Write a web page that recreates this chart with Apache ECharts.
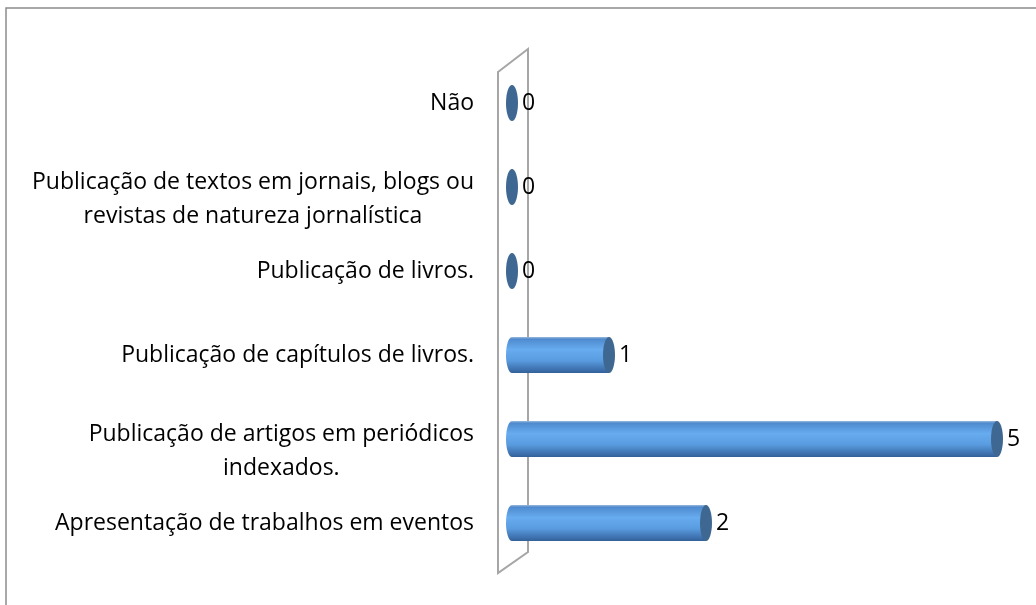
<!DOCTYPE html>
<html>
<head>
<meta charset="utf-8">
<script src="https://cdn.jsdelivr.net/npm/echarts@6/dist/echarts.min.js"></script>
<style>
  html, body { margin: 0; padding: 0; background: #fff; }
  #chart { width: 1036px; height: 605px; }
</style>
</head>
<body>
<div id="chart"></div>
<script>
// categories bottom -> top (category axis starts at the bottom)
const categories = [
  "Apresentação de trabalhos em eventos",
  "Publicação de artigos em periódicos\nindexados.",
  "Publicação de capítulos de livros.",
  "Publicação de livros.",
  "Publicação de textos em jornais, blogs ou\nrevistas de natureza jornalística",
  "Não"
];
const counts = [2, 5, 1, 0, 0, 0];
const valueMax = 5;

const FONT = "Open Sans";
const FONT_SIZE = 23;
const chart = echarts.init(document.getElementById("chart"));

const capColor = "#3e6891";
const bodyGradient = new echarts.graphic.LinearGradient(0, 0, 0, 1, [
  { offset: 0, color: "#9dbbdc" },
  { offset: 0.06, color: "#4f8ace" },
  { offset: 0.35, color: "#67acef" },
  { offset: 0.65, color: "#5a9ce0" },
  { offset: 1, color: "#33609a" }
]);

function renderWall(params) {
  const g = params.coordSys;
  const l = g.x - 14, r = g.x + 16;
  return {
    type: "polygon",
    shape: {
      points: [
        [l, g.y + 11], [r, g.y - 12],
        [r, g.y + g.height - 13], [l, g.y + g.height + 8]
      ]
    },
    style: { fill: null, stroke: "#a6a6a6", lineWidth: 2 },
    silent: true
  };
}

function renderBar(params, api) {
  const val = api.value(0);
  const idx = api.value(1);
  const start = api.coord([0, idx]);
  const end = api.coord([val, idx]);
  const h = api.size([0, 1])[1] * 0.43;
  const rx = 6;
  const cy = start[1];
  const children = [];
  if (val > 0) {
    children.push({
      type: "ellipse",
      shape: { cx: start[0], cy: cy, rx: rx, ry: h / 2 },
      style: { fill: bodyGradient }
    });
    children.push({
      type: "rect",
      shape: { x: start[0], y: cy - h / 2, width: end[0] - start[0], height: h },
      style: { fill: bodyGradient }
    });
  }
  children.push({
    type: "ellipse",
    shape: { cx: end[0], cy: cy, rx: rx, ry: h / 2 },
    style: { fill: capColor }
  });
  children.push({
    type: "text",
    style: {
      text: String(val),
      x: end[0] + rx + 4,
      y: cy,
      verticalAlign: "middle",
      align: "left",
      fill: "#000",
      font: FONT_SIZE + "px '" + FONT + "'"
    }
  });
  return { type: "group", children: children };
}

chart.setOption({
  animation: false,
  backgroundColor: "#fff",
  graphic: [{
    type: "polyline",
    shape: { points: [[6, 605], [6, 8], [1036, 8]] },
    style: { stroke: "#8c8c8c", lineWidth: 1.5, fill: null },
    silent: true
  }],
  grid: { left: 512, right: 39, top: 61, bottom: 40 },
  xAxis: {
    type: "value",
    min: 0,
    max: valueMax,
    show: false
  },
  yAxis: {
    type: "category",
    data: categories,
    axisLine: { show: false },
    axisTick: { show: false },
    splitLine: { show: false },
    axisLabel: {
      margin: 38,
      color: "#000",
      fontFamily: FONT,
      fontSize: FONT_SIZE,
      lineHeight: 34,
      formatter: function (v) {
        const lines = v.split("\n").map(function (s) { return "{c|" + s + "}"; });
        // wrapped labels sit a little below the bar centre, as in the original
        if (lines.length > 1) lines.unshift("{s| }");
        return lines.join("\n");
      },
      rich: {
        c: { align: "center", fontFamily: FONT, fontSize: FONT_SIZE, lineHeight: 34, color: "#000" },
        s: { fontSize: 4, lineHeight: 25 }
      }
    }
  },
  series: [
    {
      type: "custom",
      renderItem: renderWall,
      data: [[0, 0]],
      clip: false,
      silent: true,
      z: 1
    },
    {
      type: "custom",
      renderItem: renderBar,
      encode: { x: 0, y: 1 },
      data: counts.map(function (v, i) { return [v, i]; }),
      clip: false,
      silent: true,
      z: 2
    }
  ]
});
</script>
</body>
</html>
